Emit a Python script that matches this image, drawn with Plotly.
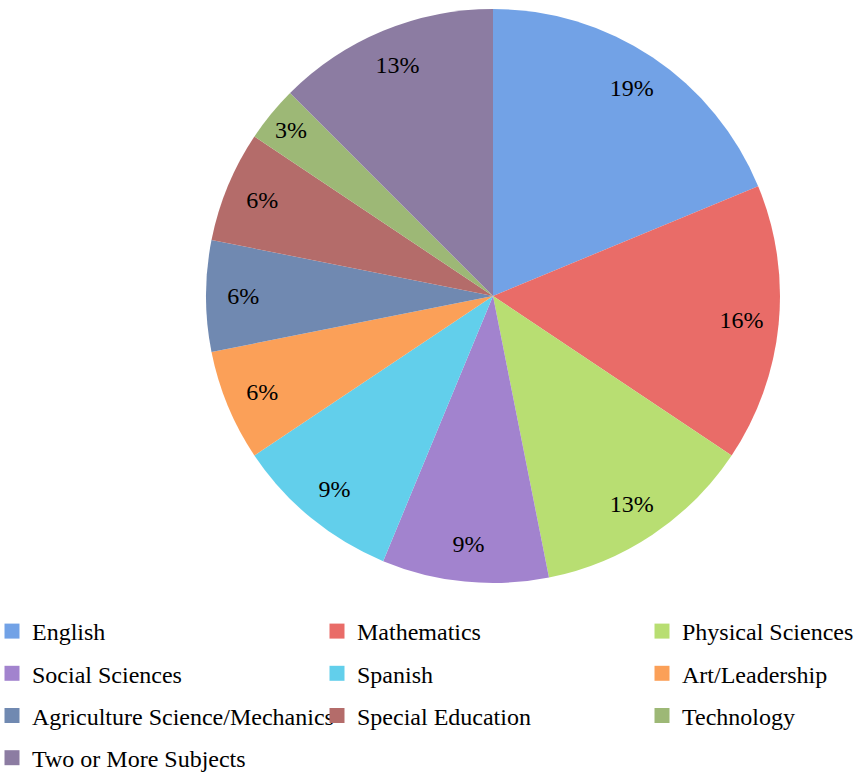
import plotly.graph_objects as go

subjects = ["English", "Mathematics", "Physical Sciences", "Social Sciences", "Spanish",
            "Art/Leadership", "Agriculture Science/Mechanics", "Special Education",
            "Technology", "Two or More Subjects"]
counts = [6, 5, 4, 3, 3, 2, 2, 2, 1, 4]
colors = ["#72A2E6", "#E96C68", "#B8DE72", "#A283CE", "#62CFEB",
          "#FBA058", "#7089B1", "#B46C6A", "#9DB876", "#8C7CA2"]

W, H = 857, 773
cx, cy, R = 493, 296, 287
FONT = "Liberation Serif, Times New Roman, serif"
dom = dict(x=[(cx - R) / W, (cx + R) / W], y=[1 - (cy + R) / H, 1 - (cy - R) / H])

fig = go.Figure()
# filled slices
fig.add_trace(go.Pie(
    labels=subjects, values=counts, sort=False, direction="clockwise", rotation=0,
    marker=dict(colors=colors, line=dict(width=0)),
    textinfo="none", domain=dom, showlegend=False, hoverinfo="label+percent",
))
# transparent ring carrying the percentage labels near the rim
fig.add_trace(go.Pie(
    labels=subjects, values=counts, sort=False, direction="clockwise", rotation=0,
    hole=0.74,
    marker=dict(colors=["rgba(0,0,0,0)"] * len(subjects), line=dict(width=0)),
    texttemplate="%{percent:.0%}", textposition="inside",
    insidetextorientation="horizontal",
    textfont=dict(family=FONT, size=24, color="black"),
    domain=dom, showlegend=False, hoverinfo="skip",
))

# legend entries: 3 columns, filled row by row
ncol = 3
col_x = [2, 327, 652]
for i, (s, c) in enumerate(zip(subjects, colors)):
    col = i % ncol
    lname = "legend" if col == 0 else f"legend{col + 1}"
    fig.add_trace(go.Scatter(
        x=[None], y=[None], mode="markers", name=s,
        marker=dict(symbol="square", size=15, color=c),
        legend=lname, legendgroup=s, showlegend=True, hoverinfo="skip",
    ))

leg_common = dict(orientation="v", xanchor="left", y=1 - 609 / H, yanchor="top",
                  itemwidth=30, indentation=-10, tracegroupgap=8,
                  bgcolor="rgba(0,0,0,0)",
                  font=dict(family=FONT, size=24, color="black"))
fig.update_layout(
    width=W, height=H, margin=dict(l=0, r=0, t=0, b=0, autoexpand=False),
    paper_bgcolor="white", plot_bgcolor="white",
    xaxis=dict(visible=False), yaxis=dict(visible=False),
    legend=dict(x=col_x[0] / W, **leg_common),
    legend2=dict(x=col_x[1] / W, **leg_common),
    legend3=dict(x=col_x[2] / W, **leg_common),
)
fig.write_html("out.html")
